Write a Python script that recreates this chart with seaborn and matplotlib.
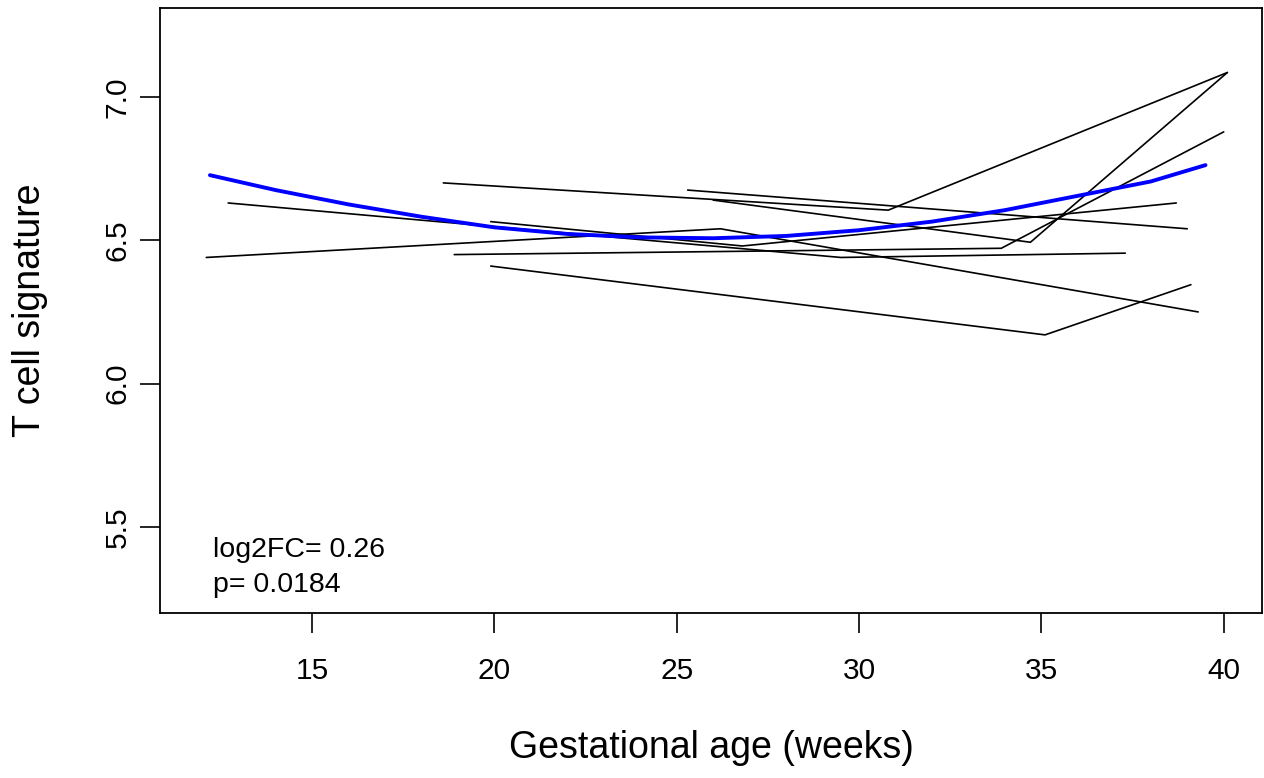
import matplotlib
matplotlib.use("Agg")
import matplotlib.pyplot as plt
import seaborn as sns
import pandas as pd

# ---- data (gestational age in weeks, T cell signature) ----
s1_weeks = [12.1, 26.2, 39.3]
s1_vals = [6.44, 6.54, 6.25]
s2_weeks = [12.7, 29.5, 37.3]
s2_vals = [6.63, 6.44, 6.455]
s3_weeks = [18.6, 30.8, 40.1]
s3_vals = [6.70, 6.605, 7.085]
s4_weeks = [25.3, 39.0]
s4_vals = [6.675, 6.54]
s5_weeks = [26.0, 34.7, 40.1]
s5_vals = [6.64, 6.493, 7.085]
s6_weeks = [18.9, 33.9, 40.0]
s6_vals = [6.45, 6.472, 6.878]
s7_weeks = [19.9, 26.8, 38.7]
s7_vals = [6.565, 6.48, 6.63]
s8_weeks = [19.9, 35.1, 39.1]
s8_vals = [6.41, 6.17, 6.345]

subjects = {
    "S1": (s1_weeks, s1_vals), "S2": (s2_weeks, s2_vals),
    "S3": (s3_weeks, s3_vals), "S4": (s4_weeks, s4_vals),
    "S5": (s5_weeks, s5_vals), "S6": (s6_weeks, s6_vals),
    "S7": (s7_weeks, s7_vals), "S8": (s8_weeks, s8_vals),
}

# fitted trend (blue)
fit_weeks = [12.2, 14, 16, 18, 20, 22, 24, 26, 28, 30, 32, 34, 36, 38, 39.5]
fit_vals = [6.727, 6.675, 6.625, 6.582, 6.545, 6.522, 6.510, 6.507, 6.515,
            6.535, 6.565, 6.605, 6.655, 6.705, 6.762]

x_ticks = [15, 20, 25, 30, 35, 40]
y_ticks = [5.5, 6.0, 6.5, 7.0]
y_tick_labels = ["5.5", "6.0", "6.5", "7.0"]
annot_lines = ["log2FC= 0.26", "p= 0.0184"]

rows = []
for sid, (ws, vs) in subjects.items():
    for w, v in zip(ws, vs):
        rows.append({"subject": sid, "weeks": w, "tcell": v})
df = pd.DataFrame(rows)
fit_df = pd.DataFrame({"weeks": fit_weeks, "tcell": fit_vals})

sns.set_theme(style="white")
plt.rcParams["font.family"] = ["Liberation Sans", "DejaVu Sans"]

fig = plt.figure(figsize=(12.64, 7.78), dpi=100)
ax = fig.add_axes([160 / 1264, 1 - 613 / 778, 1102 / 1264, 605 / 778])

sns.lineplot(data=df, x="weeks", y="tcell", units="subject", estimator=None,
             sort=False, color="black", linewidth=1.2, ax=ax)
sns.lineplot(data=fit_df, x="weeks", y="tcell", color="#0000FF",
             linewidth=2.8, ax=ax)

ax.set_xlim(10.83, 41.05)
ax.set_ylim(5.20, 7.31)
ax.set_xticks(x_ticks)
ax.set_xticklabels([str(t) for t in x_ticks])
ax.set_yticks(y_ticks)
ax.set_yticklabels(y_tick_labels, rotation=90, va="center")
ax.tick_params(axis="both", direction="out", length=14.4, width=1.2,
               colors="black", labelsize=21.5, left=True, bottom=True)
ax.tick_params(axis="x", pad=17)
ax.tick_params(axis="y", pad=6)
for sp in ax.spines.values():
    sp.set_visible(True)
    sp.set_color("black")
    sp.set_linewidth(1.3)
ax.set_xlabel("")
ax.set_ylabel("")

ax.text(0.048, 0.0926, annot_lines[0], transform=ax.transAxes,
        fontsize=20.5, ha="left", va="baseline", color="black")
ax.text(0.048, 0.0347, annot_lines[1], transform=ax.transAxes,
        fontsize=20.5, ha="left", va="baseline", color="black")

fig.text(711 / 1264, 0.0257, "Gestational age (weeks)", fontsize=27,
         ha="center", va="baseline", color="black")
fig.text(30 / 1264, 1 - 310 / 778, "T cell signature", fontsize=27,
         rotation=90, ha="center", va="center", color="black")

fig.savefig("out.png", dpi=100)
